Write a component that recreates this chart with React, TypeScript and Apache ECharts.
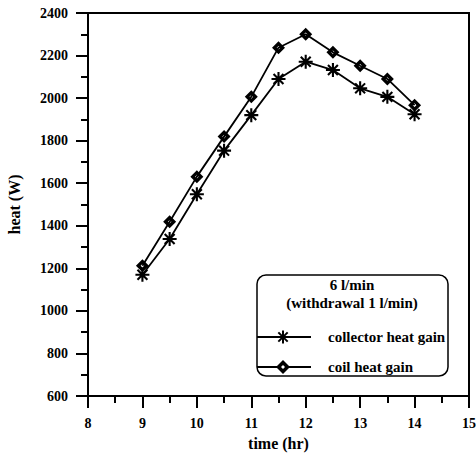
import React, { useEffect, useRef } from "react";
import * as echarts from "echarts";

// Heat gain versus time of day, 6 l/min flow with 1 l/min withdrawal
const hours = [9, 9.5, 10, 10.5, 11, 11.5, 12, 12.5, 13, 13.5, 14];
const collectorHeatGain = [1170, 1338, 1548, 1753, 1920, 2090, 2171, 2132, 2046, 2006, 1924];
const coilHeatGain = [1212, 1419, 1631, 1819, 2006, 2237, 2300, 2215, 2152, 2090, 1967];
const seriesNames = ["collector heat gain", "coil heat gain"];
const legendTitle = ["6 l/min", "(withdrawal 1 l/min)"];

const FONT = "Liberation Serif";

// eight-armed asterisk built from four overlapping bars
const STAR_PATH =
  "path://M-6,-0.9L6,-0.9L6,0.9L-6,0.9Z" +
  "M-0.9,-6L0.9,-6L0.9,6L-0.9,6Z" +
  "M-3.607,-4.879L4.879,3.607L3.607,4.879L-4.879,-3.607Z" +
  "M-4.879,3.607L3.607,-4.879L4.879,-3.607L-3.607,4.879Z";

// diamond outline with a small hollow centre
const DIAMOND_PATH =
  "path://M0,-6.5L6.5,0L0,6.5L-6.5,0Z" + "M0,-1.8L-1.8,0L0,1.8L1.8,0Z";

function starGraphics(cx: number, cy: number, s: number) {
  const arms = [
    [[-6, -0.9], [6, -0.9], [6, 0.9], [-6, 0.9]],
    [[-0.9, -6], [0.9, -6], [0.9, 6], [-0.9, 6]],
    [[-3.607, -4.879], [4.879, 3.607], [3.607, 4.879], [-4.879, -3.607]],
    [[-4.879, 3.607], [3.607, -4.879], [4.879, -3.607], [-3.607, 4.879]],
  ];
  return arms.map((pts) => ({
    type: "polygon",
    shape: { points: pts.map(([x, y]) => [cx + x * s, cy + y * s]) },
    style: { fill: "#000" },
  }));
}

function diamondGraphics(cx: number, cy: number, outer: number, inner: number) {
  const d = (r: number) => [
    [cx, cy - r],
    [cx + r, cy],
    [cx, cy + r],
    [cx - r, cy],
  ];
  return [
    { type: "polygon", shape: { points: d(outer) }, style: { fill: "#000" } },
    { type: "polygon", shape: { points: d(inner) }, style: { fill: "#fff" } },
  ];
}

function legendText(text: string, x: number, y: number, align: string) {
  return {
    type: "text",
    style: {
      text,
      x,
      y,
      fill: "#000",
      fontFamily: FONT,
      fontWeight: "bold",
      fontSize: 15,
      align,
      verticalAlign: "middle",
      textAlign: align,
      textVerticalAlign: "middle",
    },
  };
}

export default function App() {
  const ref = useRef<HTMLDivElement>(null);

  useEffect(() => {
    if (!ref.current) return;
    const chart = echarts.init(ref.current, undefined, { renderer: "svg" });

    const axisCommon = {
      axisLine: { show: true, lineStyle: { color: "#000", width: 2 } },
      axisTick: { show: true, inside: false, length: 12, lineStyle: { color: "#000", width: 2 } },
      minorTick: { show: true, splitNumber: 2, length: 7, lineStyle: { color: "#000", width: 2 } },
      splitLine: { show: false },
      minorSplitLine: { show: false },
      axisLabel: {
        color: "#000",
        fontFamily: FONT,
        fontWeight: "bold",
        fontSize: 14,
        margin: 20,
        formatter: (v: number) => String(v),
      },
      nameTextStyle: {
        color: "#000",
        fontFamily: FONT,
        fontWeight: "bold",
        fontSize: 16,
      },
    };

    const legendLeft = 257;
    const legendRight = 448;
    const legendTop = 275;
    const legendBottom = 376;
    const titleX = 352;
    const markX = 283;
    const row1 = 337;
    const row2 = 367;

    chart.setOption({
      animation: false,
      backgroundColor: "#fff",
      grid: {
        left: 88,
        right: 7,
        top: 13,
        bottom: 58,
        outerBoundsMode: "none",
        show: true,
        borderColor: "#000",
        borderWidth: 2,
        backgroundColor: "transparent",
      },
      xAxis: {
        type: "value",
        min: 8,
        max: 15,
        interval: 1,
        name: "time (hr)",
        nameLocation: "middle",
        nameGap: 39,
        ...axisCommon,
      },
      yAxis: {
        type: "value",
        min: 600,
        max: 2400,
        interval: 200,
        name: "heat (W)",
        nameLocation: "middle",
        nameRotate: 90,
        nameGap: 66,
        ...axisCommon,
      },
      series: [
        {
          name: seriesNames[0],
          type: "line",
          data: hours.map((h, i) => [h, collectorHeatGain[i]]),
          symbol: STAR_PATH,
          symbolSize: 14,
          lineStyle: { color: "#000", width: 1.8 },
          itemStyle: { color: "#000" },
          z: 3,
        },
        {
          name: seriesNames[1],
          type: "line",
          data: hours.map((h, i) => [h, coilHeatGain[i]]),
          symbol: DIAMOND_PATH,
          symbolSize: 13,
          lineStyle: { color: "#000", width: 1.8 },
          itemStyle: { color: "#000" },
          z: 3,
        },
      ],
      graphic: [
        {
          type: "rect",
          shape: {
            x: legendLeft,
            y: legendTop,
            width: legendRight - legendLeft,
            height: legendBottom - legendTop,
            r: 9,
          },
          style: { fill: "#fff", stroke: "#000", lineWidth: 1.5 },
        },
        legendText(legendTitle[0], titleX, 285, "center"),
        legendText(legendTitle[1], titleX, 303, "center"),
        {
          type: "line",
          shape: { x1: legendLeft, y1: row1, x2: 311, y2: row1 },
          style: { stroke: "#000", lineWidth: 1.8 },
        },
        ...starGraphics(markX, row1, 1.1),
        legendText(seriesNames[0], 328, row1, "left"),
        {
          type: "line",
          shape: { x1: legendLeft, y1: row2, x2: 311, y2: row2 },
          style: { stroke: "#000", lineWidth: 1.8 },
        },
        ...diamondGraphics(markX, row2, 7, 2),
        legendText(seriesNames[1], 328, row2, "left"),
      ],
    });

    return () => chart.dispose();
  }, []);

  return (
    <div
      ref={ref}
      style={{ position: "fixed", left: 0, top: 0, width: 476, height: 454 }}
    />
  );
}
